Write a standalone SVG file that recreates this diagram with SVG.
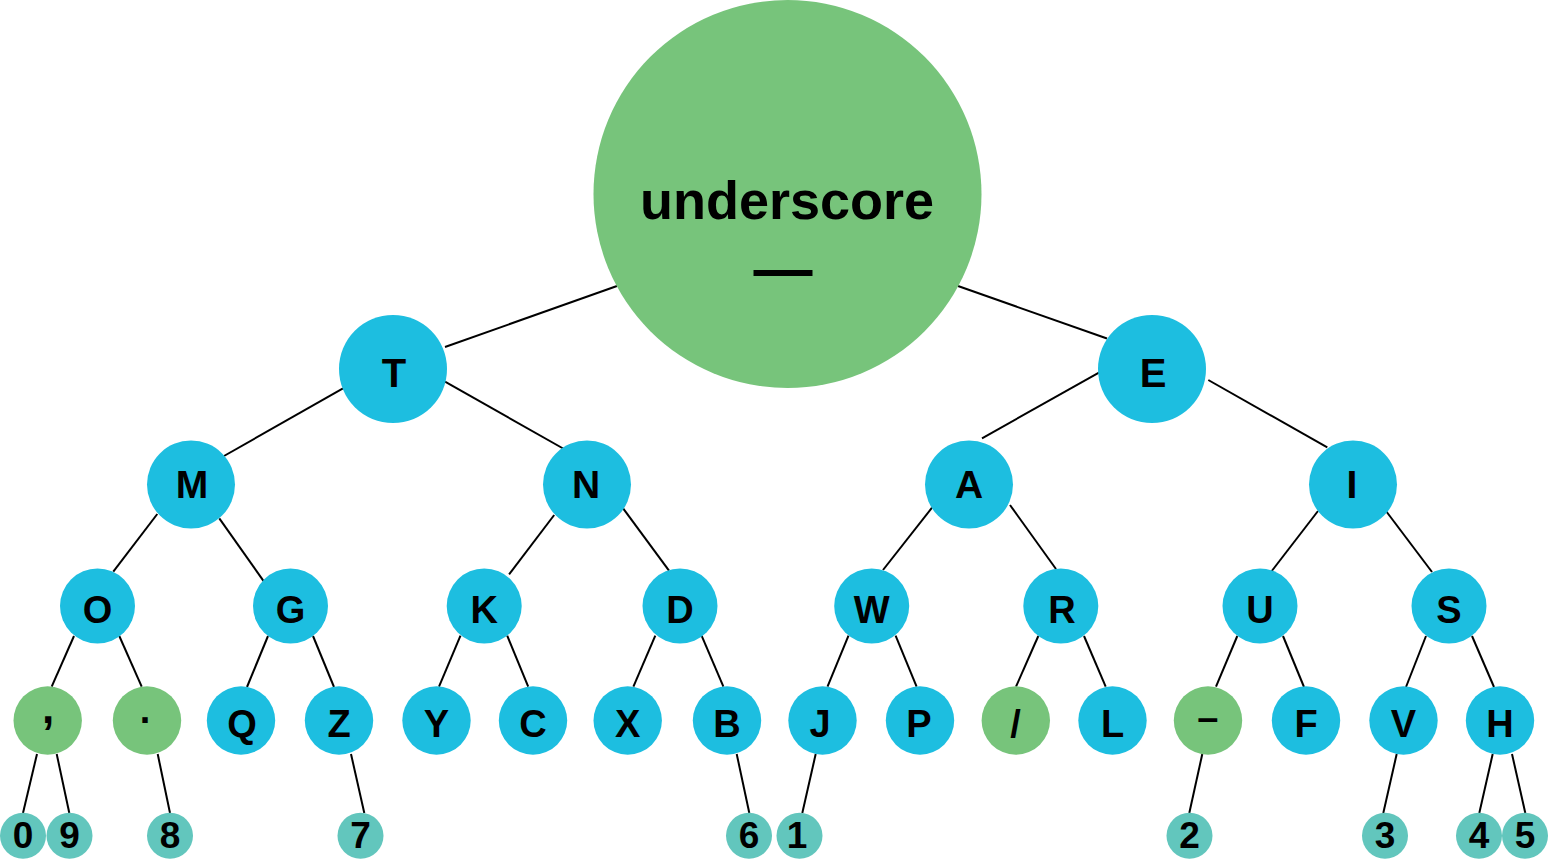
<svg xmlns="http://www.w3.org/2000/svg" width="1548" height="865" viewBox="0 0 1548 865">
<style>
.b{fill:#1dbee0}
.g{fill:#77c47b}
.t{fill:#62c6bd}
text{font-family:"Liberation Sans",Arial,sans-serif;font-weight:bold;fill:#000;text-anchor:middle}
.l2{font-size:40px}
.l3{font-size:39px}
.l4{font-size:38px}
.l5{font-size:38px}
.d{font-size:37px}
#connectors line{stroke:#000;stroke-width:2;stroke-linecap:butt}
</style>
<rect width="1548" height="865" fill="#fff"/>
<g id="connectors">
<line x1="617" y1="286" x2="445" y2="347"/>
<line x1="958" y1="286" x2="1107" y2="338.5"/>
<line x1="343" y1="388.3" x2="224" y2="456"/>
<line x1="445" y1="381.7" x2="564" y2="449"/>
<line x1="1100.7" y1="371.7" x2="982" y2="438.3"/>
<line x1="1208.3" y1="380" x2="1327.3" y2="447.3"/>
<line x1="157.3" y1="514" x2="113.3" y2="571.7"/>
<line x1="219.3" y1="518.3" x2="264" y2="581.7"/>
<line x1="554.2" y1="515" x2="509.1" y2="574.3"/>
<line x1="623.1" y1="508.3" x2="669" y2="570.7"/>
<line x1="932" y1="507.7" x2="883" y2="570"/>
<line x1="1010" y1="505" x2="1056" y2="569"/>
<line x1="1318" y1="511" x2="1271" y2="572"/>
<line x1="1386" y1="511" x2="1432" y2="572"/>
<line x1="74" y1="636" x2="51.7" y2="686.7"/>
<line x1="119.3" y1="636" x2="141.7" y2="686.7"/>
<line x1="268" y1="636" x2="247" y2="687"/>
<line x1="313" y1="636" x2="334" y2="687"/>
<line x1="460.5" y1="635.7" x2="439" y2="686.7"/>
<line x1="507.2" y1="635.7" x2="528.2" y2="686.7"/>
<line x1="655.3" y1="635.7" x2="633.4" y2="686.7"/>
<line x1="701.6" y1="635.7" x2="723.4" y2="686.7"/>
<line x1="848.5" y1="635.7" x2="827.5" y2="686.7"/>
<line x1="895.6" y1="635.7" x2="916.6" y2="686.7"/>
<line x1="1038.3" y1="636" x2="1016" y2="686.7"/>
<line x1="1084" y1="636" x2="1105.7" y2="686.7"/>
<line x1="1237.3" y1="636" x2="1216" y2="686.7"/>
<line x1="1283" y1="636" x2="1304" y2="687"/>
<line x1="1426" y1="636" x2="1406" y2="687"/>
<line x1="1472" y1="636" x2="1494" y2="687"/>
<line x1="37" y1="754" x2="23" y2="813"/>
<line x1="56.7" y1="754" x2="69.3" y2="813"/>
<line x1="157.7" y1="754" x2="170" y2="813"/>
<line x1="351" y1="754" x2="364.3" y2="813"/>
<line x1="736.7" y1="754" x2="749.3" y2="813"/>
<line x1="815.7" y1="754" x2="802.3" y2="813"/>
<line x1="1202.3" y1="754" x2="1189.3" y2="813"/>
<line x1="1396.7" y1="754" x2="1383.3" y2="813"/>
<line x1="1492.7" y1="754" x2="1479.3" y2="813"/>
<line x1="1512" y1="754" x2="1525.3" y2="813"/>
</g>
<g id="node-root"><circle class="g" cx="787.5" cy="194" r="194"/><text x="787" y="219" style="font-size:54px">underscore</text><text x="783" y="289" style="font-size:59px">—</text></g>
<g id="node-T"><circle class="b" cx="393" cy="369" r="54"/><text class="l2" x="394" y="386.5">T</text></g>
<g id="node-E"><circle class="b" cx="1152" cy="369" r="54"/><text class="l2" x="1153" y="386.5">E</text></g>
<g id="node-M"><circle class="b" cx="191" cy="484.5" r="44"/><text class="l3" x="192" y="497.5">M</text></g>
<g id="node-N"><circle class="b" cx="587" cy="484.5" r="44"/><text class="l3" x="586" y="497.5">N</text></g>
<g id="node-A"><circle class="b" cx="969" cy="484.5" r="44"/><text class="l3" x="969" y="497.5">A</text></g>
<g id="node-I"><circle class="b" cx="1353" cy="484.5" r="44"/><text class="l3" x="1352" y="497.5">I</text></g>
<g id="node-O"><circle class="b" cx="97.5" cy="606" r="37.5"/><text class="l4" x="97.5" y="623">O</text></g>
<g id="node-G"><circle class="b" cx="290.5" cy="606" r="37.5"/><text class="l4" x="290.5" y="623">G</text></g>
<g id="node-K"><circle class="b" cx="484.2" cy="606" r="37.5"/><text class="l4" x="484.2" y="623">K</text></g>
<g id="node-D"><circle class="b" cx="680" cy="606" r="37.5"/><text class="l4" x="680" y="623">D</text></g>
<g id="node-W"><circle class="b" cx="871.7" cy="606" r="37.5"/><text class="l4" x="871.7" y="623">W</text></g>
<g id="node-R"><circle class="b" cx="1060.8" cy="606" r="37.5"/><text class="l4" x="1062" y="623">R</text></g>
<g id="node-U"><circle class="b" cx="1260" cy="606" r="37.5"/><text class="l4" x="1260" y="623">U</text></g>
<g id="node-S"><circle class="b" cx="1449" cy="606" r="37.5"/><text class="l4" x="1449" y="623">S</text></g>
<g id="node-comma"><circle class="g" cx="47.7" cy="720.5" r="34.2"/><text class="l5" x="48" y="723" style="font-size:44px">,</text></g>
<g id="node-period"><circle class="g" cx="147" cy="720.5" r="34.2"/><text class="l5" x="145" y="723">.</text></g>
<g id="node-Q"><circle class="b" cx="241" cy="720.5" r="34.2"/><text class="l5" x="242" y="736.5">Q</text></g>
<g id="node-Z"><circle class="b" cx="339" cy="720.5" r="34.2"/><text class="l5" x="339" y="736.5">Z</text></g>
<g id="node-Y"><circle class="b" cx="436.5" cy="720.5" r="34.2"/><text class="l5" x="436.5" y="736.5">Y</text></g>
<g id="node-C"><circle class="b" cx="533" cy="720.5" r="34.2"/><text class="l5" x="533" y="736.5">C</text></g>
<g id="node-X"><circle class="b" cx="627.7" cy="720.5" r="34.2"/><text class="l5" x="627.7" y="736.5">X</text></g>
<g id="node-B"><circle class="b" cx="727" cy="720.5" r="34.2"/><text class="l5" x="727" y="736.5">B</text></g>
<g id="node-J"><circle class="b" cx="822.5" cy="720.5" r="34.2"/><text class="l5" x="820" y="736.5">J</text></g>
<g id="node-P"><circle class="b" cx="920" cy="720.5" r="34.2"/><text class="l5" x="919" y="736.5">P</text></g>
<g id="node-slash"><circle class="g" cx="1015.8" cy="720.5" r="34.2"/><text class="l5" x="1015.5" y="736.5">/</text></g>
<g id="node-L"><circle class="b" cx="1112.5" cy="720.5" r="34.2"/><text class="l5" x="1112.5" y="736.5">L</text></g>
<g id="node-dash"><circle class="g" cx="1208" cy="720.5" r="34.2"/><text class="l5" x="1207.7" y="731">–</text></g>
<g id="node-F"><circle class="b" cx="1306" cy="720.5" r="34.2"/><text class="l5" x="1306" y="736.5">F</text></g>
<g id="node-V"><circle class="b" cx="1403.5" cy="720.5" r="34.2"/><text class="l5" x="1403.5" y="736.5">V</text></g>
<g id="node-H"><circle class="b" cx="1500" cy="720.5" r="34.2"/><text class="l5" x="1500" y="736.5">H</text></g>
<g id="node-0"><circle class="t" cx="23" cy="835.7" r="23"/><text class="d" x="23" y="848">0</text></g>
<g id="node-9"><circle class="t" cx="69.5" cy="835.7" r="23"/><text class="d" x="69.5" y="848">9</text></g>
<g id="node-8"><circle class="t" cx="170" cy="835.7" r="23"/><text class="d" x="170" y="848">8</text></g>
<g id="node-7"><circle class="t" cx="360.5" cy="835.7" r="23"/><text class="d" x="360.5" y="848">7</text></g>
<g id="node-6"><circle class="t" cx="749" cy="835.7" r="23"/><text class="d" x="749" y="848">6</text></g>
<g id="node-1"><circle class="t" cx="799.5" cy="835.7" r="23"/><text class="d" x="797" y="848">1</text></g>
<g id="node-2"><circle class="t" cx="1189.5" cy="835.7" r="23"/><text class="d" x="1189.5" y="848">2</text></g>
<g id="node-3"><circle class="t" cx="1385" cy="835.7" r="23"/><text class="d" x="1385" y="848">3</text></g>
<g id="node-4"><circle class="t" cx="1479" cy="835.7" r="23"/><text class="d" x="1479" y="848">4</text></g>
<g id="node-5"><circle class="t" cx="1525" cy="835.7" r="23"/><text class="d" x="1525" y="848">5</text></g>
</svg>
